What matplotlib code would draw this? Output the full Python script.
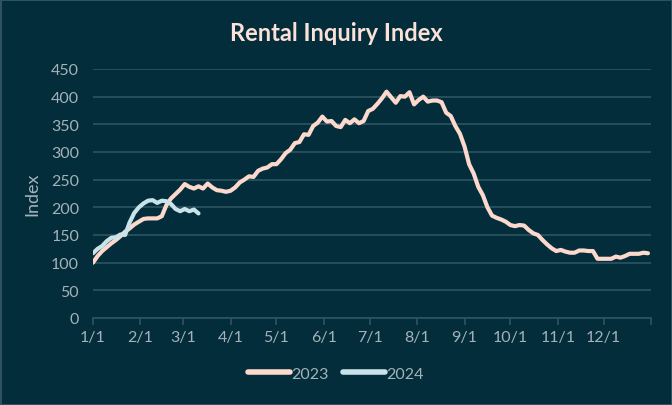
import numpy as np
import matplotlib
matplotlib.use("Agg")
import matplotlib.pyplot as plt

v2023 = [100, 112, 121, 128, 135, 141, 148, 156, 162, 169, 174, 179, 180, 180, 180,
         184, 204, 216, 224, 232, 242, 237, 234, 238, 234, 243, 236, 231, 230, 228,
         230, 236, 245, 250, 256, 255, 266, 270, 272, 278, 278, 287, 298, 304, 316,
         318, 332, 331, 347, 353, 364, 355, 356, 347, 345, 358, 352, 359, 352, 356,
         374, 378, 387, 397, 409, 399, 389, 401, 400, 408, 386, 394, 400, 391, 393,
         393, 390, 371, 365, 347, 333, 310, 278, 261, 237, 222, 200, 185, 181, 178,
         174, 168, 166, 168, 167, 159, 153, 150, 141, 133, 126, 121, 123, 120, 118,
         118, 122, 122, 121, 121, 107, 107, 107, 107, 111, 109, 112, 116, 116, 116,
         118, 117]
v2024 = [117, 125, 130, 139, 145, 146, 151, 150, 173, 190, 200, 207, 212, 213, 208,
         212, 211, 206, 197, 193, 197, 193, 196, 189]

month_days = [0, 31, 59, 90, 120, 151, 181, 212, 243, 273, 304, 334]
month_labels = ["1/1", "2/1", "3/1", "4/1", "5/1", "6/1", "7/1", "8/1", "9/1",
                "10/1", "11/1", "12/1"]

bg = "#042d3b"
pink = "#fdd8cc"
blue = "#c8e4ea"
grey = "#a3b3b9"
grid = "#2c5461"

plt.rcParams["font.family"] = ["Lato", "DejaVu Sans"]

fig = plt.figure(figsize=(6.72, 4.06), dpi=100, facecolor=bg,
                 edgecolor="#2e5260", linewidth=2)
ax = fig.add_axes([0.1384, 0.2143, 0.8304, 0.6133])
ax.set_facecolor(bg)

x23 = np.arange(len(v2023)) * 3
x24 = np.arange(len(v2024)) * 3
ax.plot(x23, v2023, color=pink, lw=3, solid_capstyle="round", label="2023", zorder=3)
ax.plot(x24, v2024, color=blue, lw=3, solid_capstyle="round", label="2024", zorder=4)

ax.set_xlim(0, 365)
ax.set_ylim(0, 450)
ax.set_yticks(range(0, 451, 50))
ax.set_xticks(month_days + [365])
ax.set_xticklabels(month_labels + [""])
ax.grid(axis="y", color=grid, lw=1.2)
ax.set_axisbelow(True)
for s in ["top", "right", "left"]:
    ax.spines[s].set_visible(False)
ax.spines["bottom"].set_color(grid)
ax.spines["bottom"].set_linewidth(1.2)
ax.tick_params(axis="x", colors=grey, length=5, width=1.2, color=grid, labelsize=11.5, pad=4)
ax.tick_params(axis="y", colors=grey, length=0, labelsize=11.5, pad=10)
ax.set_ylabel("Index", color=grey, fontsize=13, labelpad=8)

fig.suptitle("Rental Inquiry Index", color="#fbe1d8", fontsize=17, fontweight="bold", y=0.945)

leg = fig.legend(loc="center", bbox_to_anchor=(0.5, 0.077), ncol=2, frameon=False,
                 fontsize=11.5, handlelength=2.6, handletextpad=0.1, columnspacing=0.9)
for t in leg.get_texts():
    t.set_color(grey)
for h in leg.get_lines():
    h.set_linewidth(4)

fig.savefig("out.png", dpi=100, facecolor=bg, edgecolor=fig.get_edgecolor())
